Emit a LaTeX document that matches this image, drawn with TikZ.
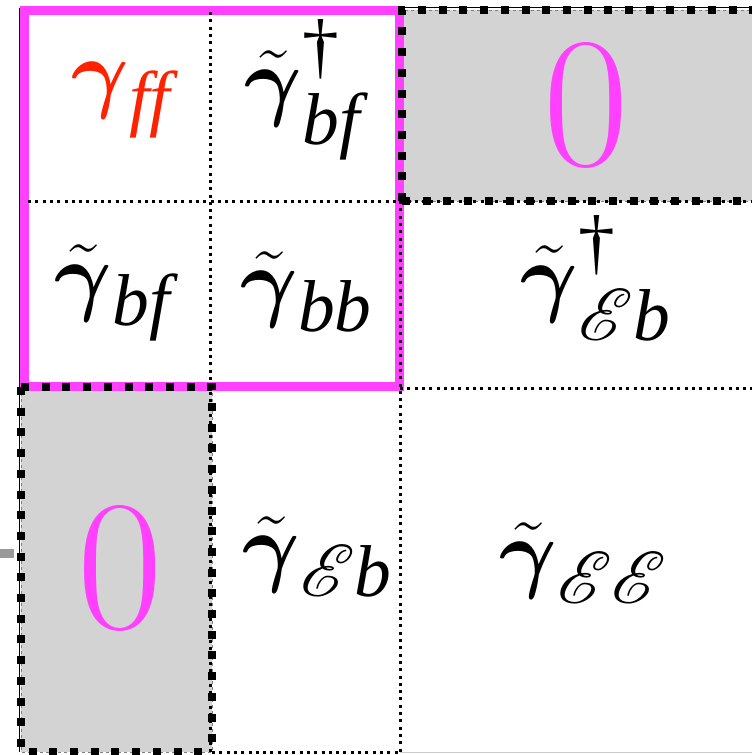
\documentclass[tikz,border=0pt]{standalone}
\usepackage{graphicx}
\usepackage{amsmath}
\usepackage{mathrsfs}
\usepackage{fontspec}
\newfontfamily\tms{Liberation Serif}
\definecolor{mag}{HTML}{FF40FF}
\definecolor{redtxt}{HTML}{FF2200}
\definecolor{cellgray}{HTML}{D3D3D3}
\definecolor{stubgray}{HTML}{999999}
\newcommand{\cellmath}[1]{\scalebox{3.54}{\Huge$#1$}}
\newcommand{\cellzero}{\scalebox{7.48}{\Huge 0}}
\newcommand{\ti}[1]{\text{\tms\itshape #1}}
\newcommand{\dg}{\text{\tms †}}
\newcommand{\gm}{\boldsymbol{\gamma}}
\newcommand{\tg}{\tilde{\gm}}
\tikzset{
  thindot/.style={line width=3pt, dash pattern=on 3pt off 4.3pt},
  thickdot/.style={line width=8pt, dash pattern=on 8pt off 12.7pt},
  magframe/.style={draw=mag, line width=9pt},
  grayfill/.style={fill=cellgray, draw=gray, line width=0.8pt, dashed},
  mathlbl/.style={inner sep=0pt},
  zerolbl/.style={inner sep=0pt, text=mag},
}
\begin{document}
\begin{tikzpicture}[x=1pt,y=-1pt]
\useasboundingbox (0,0) rectangle (752,755);
% gray zero blocks
\path[grayfill] (402,10) rectangle (760,201);
\path[grayfill] (21,387) rectangle (212,752);
% outer thin frame parts
\draw[black, line width=1pt] (19,8) -- (19,752);
\draw[black, line width=1pt] (400,7) -- (752,7);
\draw[gray!40, line width=1.5pt] (400,752.5) -- (752,752.5);
% magenta block
\draw[magframe] (24,10) rectangle (399,386);
% thin dotted grid
\draw[thindot] (210,12) -- (210,752);
\draw[thindot] (28,201) -- (752,201);
\draw[thindot] (400,201) -- (400,752);
\draw[thindot] (400,388) -- (752,388);
\draw[thindot] (212,752) -- (400,752);
% thick dotted borders of the zero blocks
\draw[thickdot] (402,201) -- (402,10) -- (760,10);
\draw[thickdot] (402,201) -- (760,201);
\draw[thickdot] (21,387) -- (212,387) -- (212,752);
\draw[thickdot] (21,387) -- (21,752) -- (212,752);
% cut-off stub at left
\draw[stubgray, line width=9pt] (0,553) -- (14,553);
% labels
\node[mathlbl, text=redtxt] (gff) at (122,100) {\cellmath{\gm_{\ti{ff}}}};
\node[mathlbl] (gbfd) at (303,90) {\cellmath{\tg^{\dg}_{\ti{bf}}}};
\node[zerolbl] (z1) at (586,105) {\cellzero};
\node[mathlbl] (gbf) at (113,293) {\cellmath{\tg_{\ti{bf}}}};
\node[mathlbl] (gbb) at (307,292) {\cellmath{\tg_{\ti{bb}}}};
\node[mathlbl] (gEbd) at (596,278) {\cellmath{\tg^{\dg}_{\mathscr{E}\ti{b}}}};
\node[zerolbl] (z2) at (120,568) {\cellzero};
\node[mathlbl] (gEb) at (318,557) {\cellmath{\tg_{\mathscr{E}\ti{b}}}};
\node[mathlbl] (gEE) at (584,563) {\cellmath{\tg_{\mathscr{E}\mathscr{E}}}};
\end{tikzpicture}
\end{document}
